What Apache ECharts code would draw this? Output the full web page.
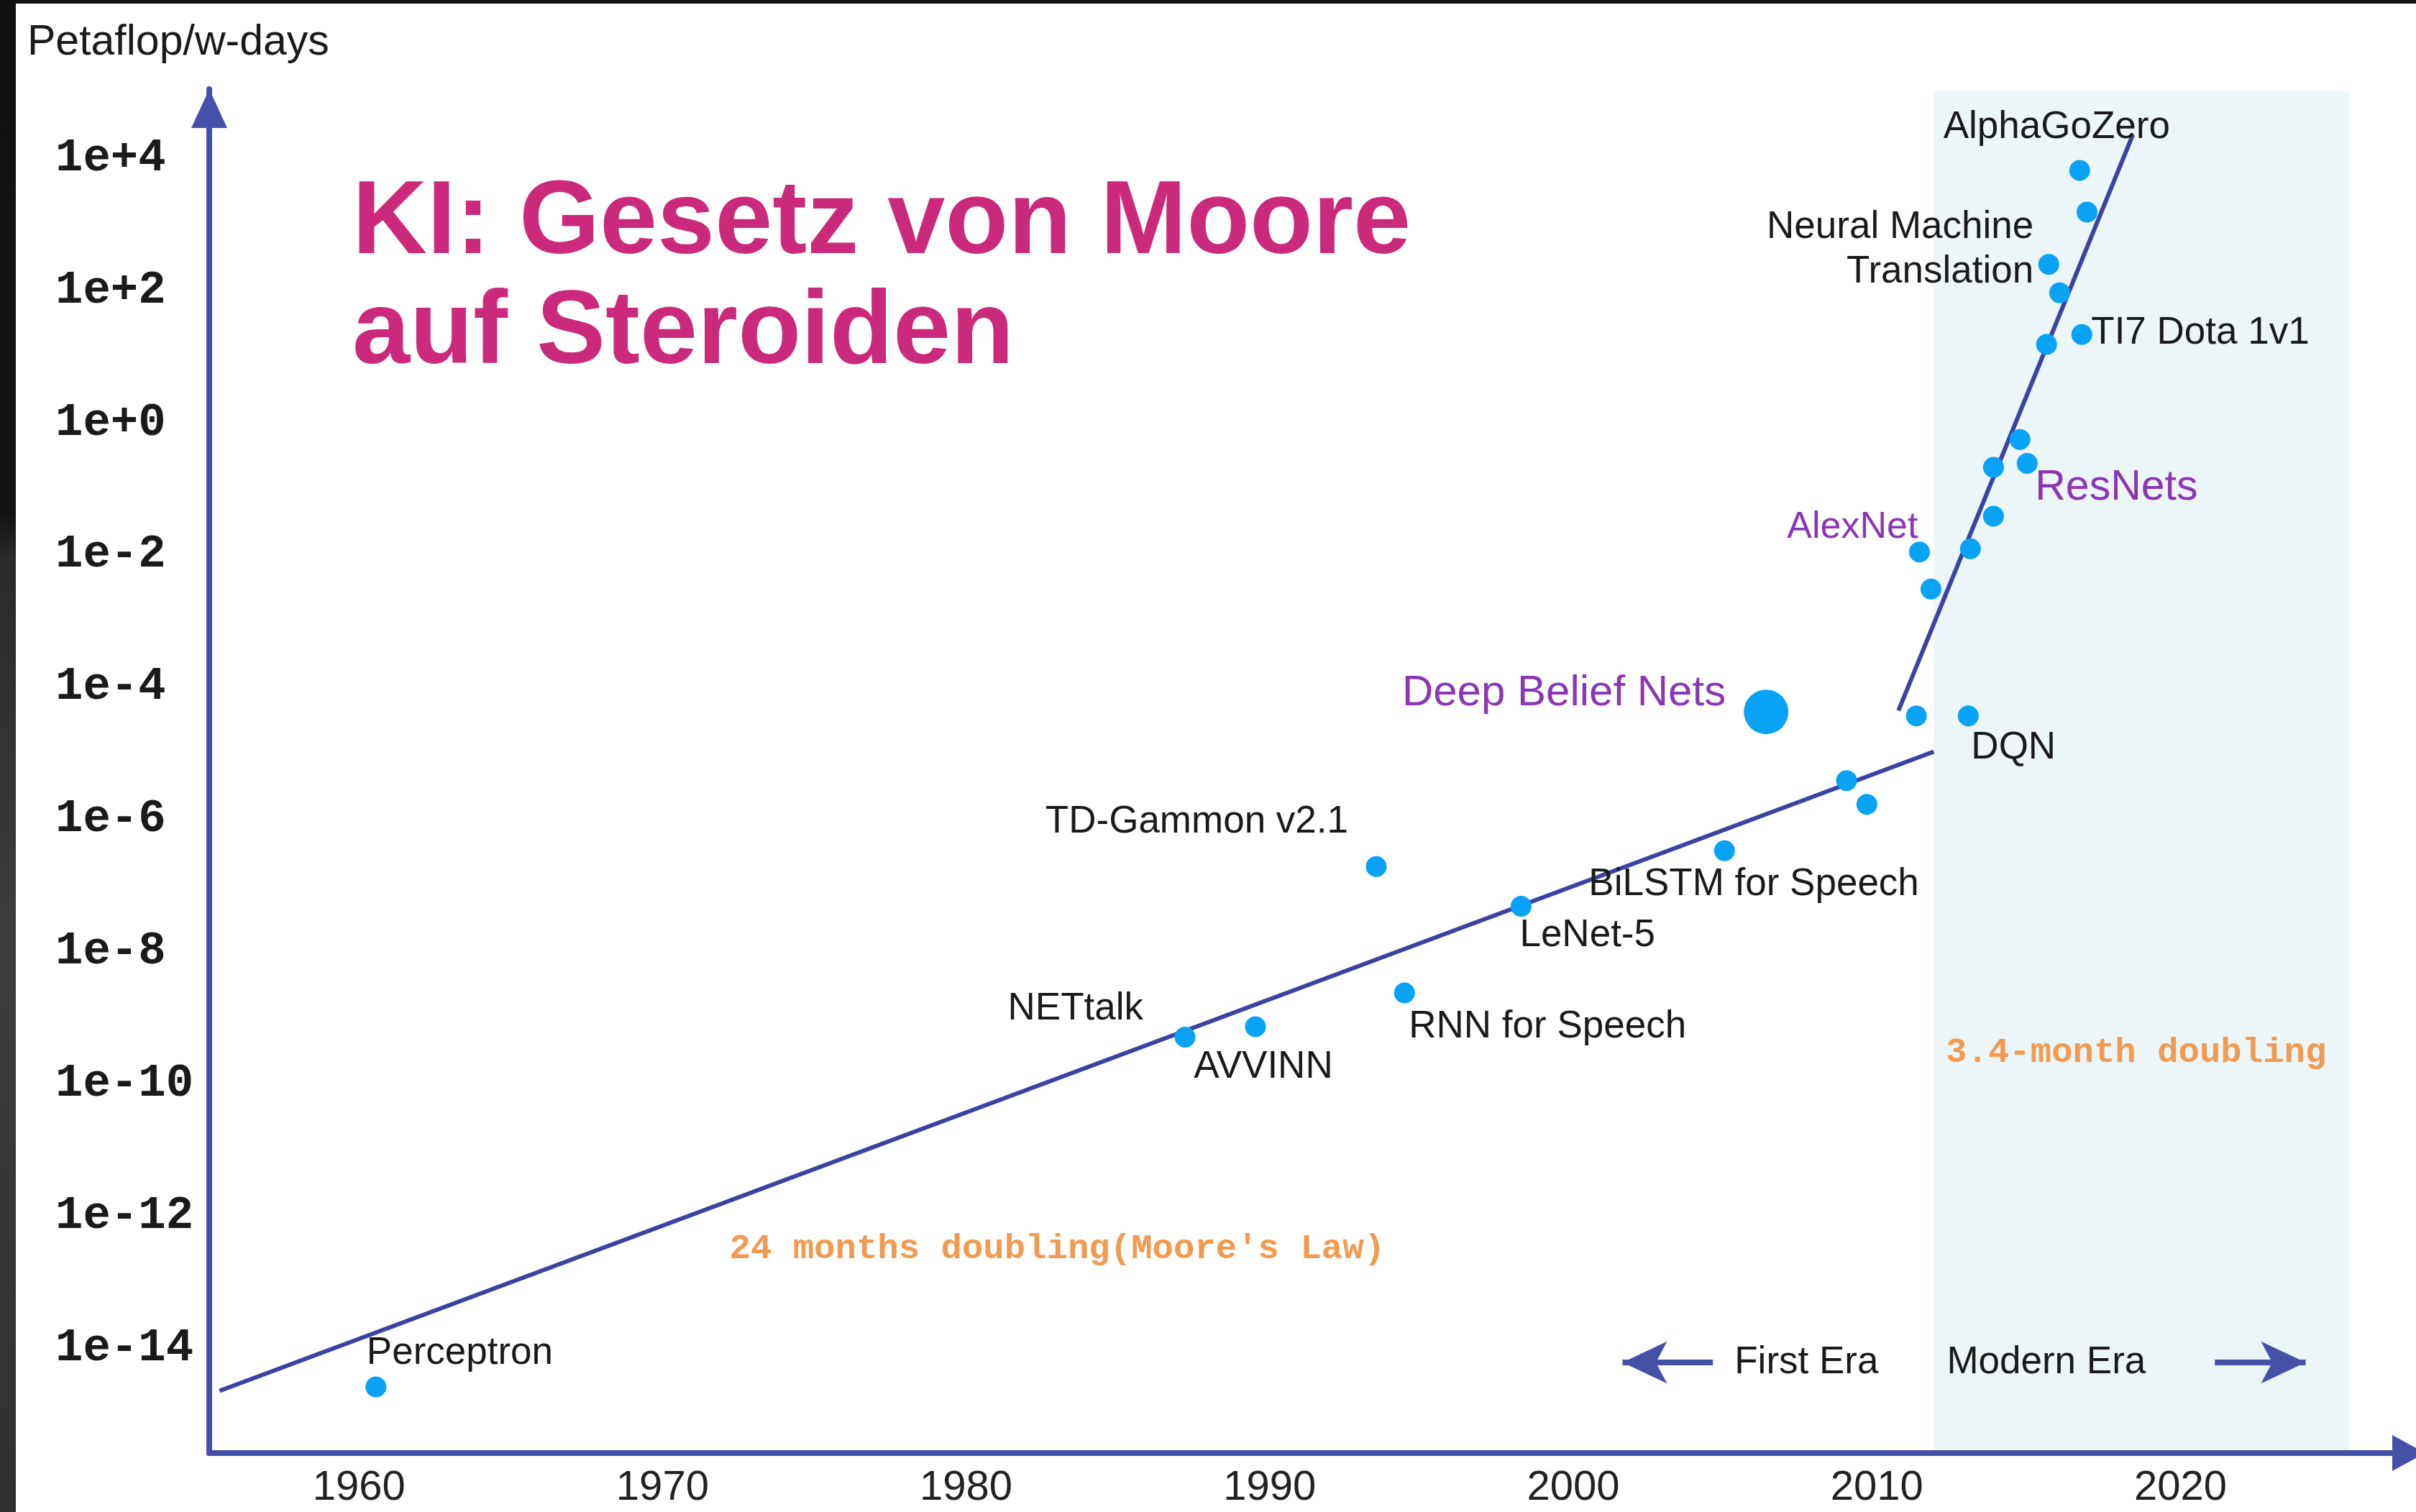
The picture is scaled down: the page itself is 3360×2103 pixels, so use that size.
<!DOCTYPE html>
<html>
<head>
<meta charset="utf-8">
<title>KI: Gesetz von Moore auf Steroiden</title>
<script src="https://cdn.jsdelivr.net/npm/echarts@6.0.0/dist/echarts.min.js"></script>
<style>
  html, body { margin: 0; padding: 0; background: #fff; }
  #main { width: 3360px; height: 2103px; }
  .edge-left { position: absolute; left: 0; top: 0; width: 22px; height: 2103px;
    background: linear-gradient(#101010 0%, #131313 34%, #2a2a2a 37%, #3d3d3d 62%, #303030 100%); }
  .edge-top { position: absolute; left: 0; top: 0; width: 3360px; height: 5px; background: #111; }
</style>
</head>
<body>
<div id="main"></div>
<div class="edge-left"></div>
<div class="edge-top"></div>
<script>
// training compute (petaflop/s-days) by year
const years = [1960.56, 1987.21, 1989.53, 1993.51, 1994.44, 1998.28, 2004.98, 2006.35,
  2009.00, 2009.67, 2011.30, 2013.01, 2011.40, 2011.78, 2013.08, 2013.84, 2013.84,
  2014.71, 2014.95, 2015.59, 2016.75, 2016.02, 2015.66, 2016.92, 2016.68];
const compute = [2.24e-15, 4.37e-10, 6.3e-10, 1.66e-7, 2.04e-9, 4.17e-8, 2.88e-7, 3.63e-5,
  3.31e-6, 1.45e-6, 3.16e-5, 3.16e-5, 9.55e-3, 2.63e-3, 1.07e-2, 3.31e-2, 0.182,
  0.479, 0.209, 13.2, 18.6, 79.4, 214, 1318, 5623];
const names = ['Perceptron', 'NETtalk', 'AVVINN', 'TD-Gammon v2.1', 'RNN for Speech', 'LeNet-5',
  'BiLSTM for Speech', 'Deep Belief Nets', '', '', '', 'DQN', 'AlexNet', '', '', '', '',
  '', 'ResNets', '', 'TI7 Dota 1v1', '', 'Neural Machine\nTranslation', '', 'AlphaGoZero'];

// trend lines
const mooreYears = [1955.41, 2011.87];
const mooreCompute = [1.95e-15, 9.1e-6];
const modernYears = [2010.71, 2018.43];
const modernCompute = [3.8e-5, 1.95e4];

// modern era band
const modernEra = [2011.87, 2025.56];
const modernEraTop = 8.9e4;

// axis range (log10 for y)
const yearRange = [1955.07, 2027.52];
const logRange = [-15.65, 4.98];

const lineColor = '#3c42a0';
const axisColor = '#4650a8';
const dotColor = '#09a3f6';
const purple = '#8b36b4';
const orange = '#f29a50';
const sans = 'Liberation Sans, Arial, sans-serif';
const mono = 'Liberation Mono, Courier New, monospace';

const dotSize = 29;
const bigDotSize = 62;

// label placement relative to the dot centre (pixels)
const labelStyle = {
  'Perceptron': { align: 'left', dx: -13, dy: -47 },
  'NETtalk': { align: 'right', dx: -58, dy: -39 },
  'AVVINN': { align: 'center', dx: 11, dy: 56 },
  'RNN for Speech': { align: 'left', dx: 6, dy: 47 },
  'TD-Gammon v2.1': { align: 'right', dx: -39, dy: -62 },
  'LeNet-5': { align: 'left', dx: -2, dy: 41 },
  'BiLSTM for Speech': { align: 'left', dx: -189, dy: 47 },
  'Deep Belief Nets': { align: 'right', dx: -56, dy: -26, color: purple, size: 60 },
  'DQN': { align: 'left', dx: 4, dy: 45 },
  'AlexNet': { align: 'right', dx: -2, dy: -34, color: purple, size: 52 },
  'ResNets': { align: 'left', dx: 11, dy: 34, color: purple, size: 59 },
  'TI7 Dota 1v1': { align: 'left', dx: 13, dy: -2 },
  'Neural Machine\nTranslation': { align: 'right', dx: -21, dy: -20 },
  'AlphaGoZero': { align: 'center', dx: -32, dy: -60 }
};

const log10 = v => Math.log10(v);

const points = years.map((y, i) => {
  const big = names[i] === 'Deep Belief Nets';
  const half = (big ? bigDotSize : dotSize) / 2;
  const item = { value: [y, log10(compute[i])], name: names[i] };
  const s = labelStyle[names[i]];
  if (s) {
    item.label = {
      show: true,
      position: [half + s.dx, half + s.dy],
      align: s.align,
      verticalAlign: 'middle',
      color: s.color || '#1a1a1a',
      fontSize: s.size || 53,
      lineHeight: 62,
      fontFamily: sans
    };
  }
  if (big) item.symbolSize = bigDotSize;
  return item;
});

const chart = echarts.init(document.getElementById('main'));

chart.setOption({
  backgroundColor: '#fff',
  animation: false,
  title: {
    text: 'KI: Gesetz von Moore\nauf Steroiden',
    left: 490,
    top: 236,
    padding: 0,
    textStyle: { color: '#cb2a7b', fontSize: 144, fontWeight: 'bold', fontFamily: sans, lineHeight: 153 }
  },
  grid: { left: 291, right: 10, top: 124, bottom: 82 },
  xAxis: {
    type: 'value',
    min: yearRange[0],
    max: yearRange[1],
    minInterval: 10,
    maxInterval: 10,
    z: 4,
    axisLine: {
      onZero: false,
      lineStyle: { color: axisColor, width: 8 },
      symbol: ['none', 'triangle'],
      symbolSize: [50, 46]
    },
    axisTick: { show: false },
    splitLine: { show: false },
    axisLabel: {
      showMinLabel: false,
      showMaxLabel: false,
      margin: 20,
      color: '#222',
      fontSize: 58,
      fontFamily: sans,
      formatter: v => String(Math.round(v))
    }
  },
  yAxis: {
    type: 'value',
    min: logRange[0],
    max: logRange[1],
    minInterval: 2,
    maxInterval: 2,
    z: 4,
    axisLine: {
      onZero: false,
      lineStyle: { color: axisColor, width: 8 },
      symbol: ['none', 'triangle'],
      symbolSize: [50, 54],
      symbolOffset: [0, -27]
    },
    axisTick: { show: false },
    splitLine: { show: false },
    axisLabel: {
      showMinLabel: false,
      showMaxLabel: false,
      align: 'left',
      margin: 214,
      formatter: v => {
        const e = Math.round(v);
        return '{t|1e' + (e >= 0 ? '+' : '-') + Math.abs(e) + '}';
      },
      rich: {
        t: {
          padding: [13, 0, 0, 0],
          color: '#1a1a1a',
          fontSize: 64,
          fontWeight: 'bold',
          fontFamily: mono
        }
      }
    }
  },
  series: [
    {
      name: 'Modern Era',
      type: 'line',
      z: 1,
      data: [],
      silent: true,
      markArea: {
        silent: true,
        itemStyle: { color: '#ecf5f8' },
        data: [[
          { xAxis: modernEra[0], yAxis: log10(modernEraTop) },
          { xAxis: modernEra[1], yAxis: logRange[0] }
        ]]
      }
    },
    {
      name: '24 months doubling',
      type: 'line',
      z: 3,
      symbol: 'none',
      silent: true,
      lineStyle: { color: lineColor, width: 6 },
      data: mooreYears.map((y, i) => [y, log10(mooreCompute[i])]),
      markLine: {
        silent: true,
        symbol: ['none', 'arrow'],
        symbolSize: [44, 62],
        label: { show: false },
        lineStyle: { color: axisColor, width: 8, type: 'solid' },
        data: [
          [{ coord: [2004.60, -14.28] }, { coord: [2001.62, -14.28] }],
          [{ coord: [2021.13, -14.28] }, { coord: [2024.12, -14.28] }]
        ]
      }
    },
    {
      name: '3.4-month doubling',
      type: 'line',
      z: 3,
      symbol: 'none',
      silent: true,
      lineStyle: { color: lineColor, width: 6 },
      data: modernYears.map((y, i) => [y, log10(modernCompute[i])])
    },
    {
      name: 'Models',
      type: 'scatter',
      z: 5,
      symbolSize: dotSize,
      itemStyle: { color: dotColor, opacity: 1 },
      label: { show: false, formatter: p => p.name },
      labelLayout: { hideOverlap: false },
      emphasis: { disabled: true },
      data: points
    }
  ]
});

// text annotations placed in data coordinates
const notes = [
  { text: "24 months doubling(Moore's Law)", at: [1983.0, -12.57], align: 'center', color: orange, font: mono, size: 49, weight: 'bold' },
  { text: '3.4-month doubling', at: [2012.27, -9.60], align: 'left', color: orange, font: mono, size: 49, weight: 'bold' },
  { text: 'First Era', at: [2005.31, -14.28], align: 'left', color: '#1a1a1a', font: sans, size: 53, weight: 'normal' },
  { text: 'Modern Era', at: [2012.30, -14.28], align: 'left', color: '#1a1a1a', font: sans, size: 53, weight: 'normal' }
];

const graphics = notes.map(n => {
  const p = chart.convertToPixel({ gridIndex: 0 }, n.at);
  return {
    type: 'text', x: p[0], y: p[1], silent: true, z: 10,
    style: { text: n.text, fill: n.color, fontFamily: n.font, fontSize: n.size, fontWeight: n.weight, align: n.align, verticalAlign: 'middle' }
  };
});
graphics.push({
  type: 'text', x: 38, y: 60, silent: true,
  style: { text: 'Petaflop/w-days', fill: '#1a1a1a', fontFamily: sans, fontSize: 59, align: 'left', verticalAlign: 'middle' }
});

chart.setOption({ graphic: graphics });
</script>
</body>
</html>
